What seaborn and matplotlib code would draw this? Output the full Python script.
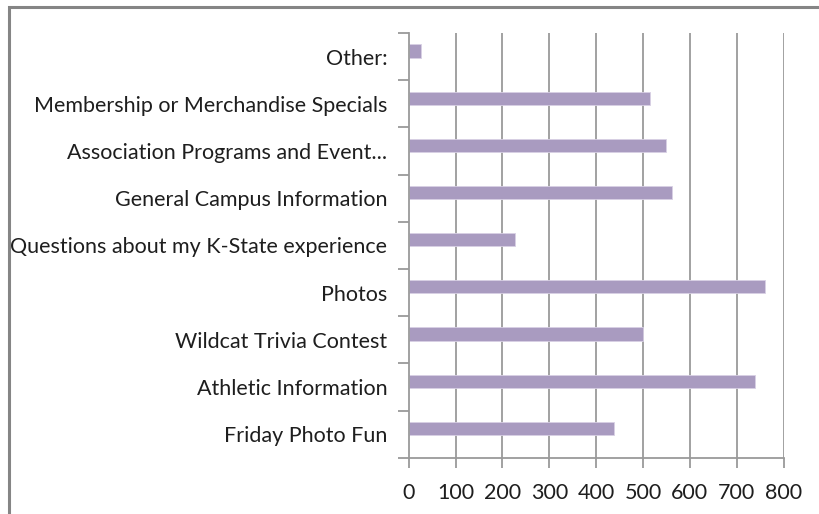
import matplotlib
matplotlib.use("Agg")
import matplotlib.pyplot as plt
import seaborn as sns
import pandas as pd
from matplotlib.patches import Rectangle

# Survey responses: which content readers want to see (top to bottom)
categories = [
    "Other:",
    "Membership or Merchandise Specials",
    "Association Programs and Event...",
    "General Campus Information",
    "Questions about my K-State experience",
    "Photos",
    "Wildcat Trivia Contest",
    "Athletic Information",
    "Friday Photo Fun",
]
responses = [27, 515, 548, 562, 227, 760, 499, 739, 438]
x_ticks = [0, 100, 200, 300, 400, 500, 600, 700, 800]

df = pd.DataFrame({"category": categories, "responses": responses})

sns.set_theme(style="white")
plt.rcParams["font.family"] = ["Lato", "DejaVu Sans"]

fig = plt.figure(figsize=(8.2, 5.14), dpi=100)
ax = fig.add_axes([0.4984, 0.1095, 0.4573, 0.8263])

bar_color = "#A99BC0"
sns.barplot(data=df, x="responses", y="category", orient="h", color=bar_color,
            width=0.28, saturation=1, ax=ax, edgecolor="#D8D0E4", linewidth=0.6)

# category bands sit slightly below the bars
shift = 0.12
n = len(categories)
ax.set_ylim(n - 0.5 + shift, -0.5 + shift)
ax.set_xlim(0, 800)

grid_col = "#9A9A9A"
text_col = "#1E1E1E"
fs = 15.5
ax.set_xticks(x_ticks)
ax.set_xticklabels([str(v) for v in x_ticks], fontsize=fs, color=text_col)
for v in x_ticks[1:]:
    ax.axvline(v, color=grid_col, lw=1.3, zorder=0)

ax.set_yticks([i + shift for i in range(n)])
ax.set_yticklabels(categories, fontsize=fs, color=text_col)
ax.set_yticks([i - 0.5 + shift for i in range(n + 1)], minor=True)
ax.tick_params(axis="y", which="major", left=False, length=0, pad=15.5)
ax.tick_params(axis="y", which="minor", left=True, length=8, width=1.3,
               color=grid_col, direction="out")
ax.tick_params(axis="x", which="major", bottom=True, length=7, width=1.3,
               color=grid_col, direction="out", pad=11)

ax.set_xlabel("")
ax.set_ylabel("")
for side in ["top", "right"]:
    ax.spines[side].set_visible(False)
for side in ["left", "bottom"]:
    ax.spines[side].set_color(grid_col)
    ax.spines[side].set_linewidth(1.3)

# outer chart frame
fig.patches.append(Rectangle((8.5 / 820, -0.1), 1.2, 1.1 - 7.5 / 514,
                             transform=fig.transFigure, fill=False,
                             edgecolor="#858585", lw=2.2))

fig.savefig("out.png", dpi=100)
